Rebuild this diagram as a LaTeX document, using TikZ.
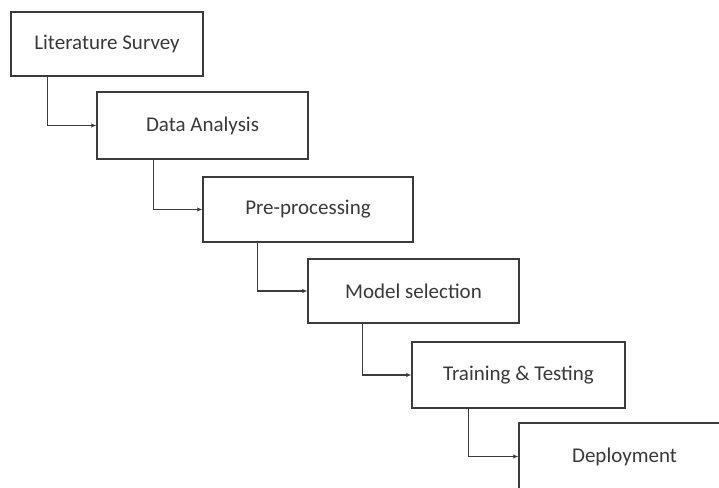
\documentclass[tikz,border=0pt]{standalone}
\usepackage{fontspec}
\setmainfont{Carlito}
\usetikzlibrary{arrows.meta}
\definecolor{ln}{HTML}{3C3C3C}
\definecolor{tx}{HTML}{3A3A3A}
\tikzset{
  stepbox/.style={draw=ln, line width=1.4pt, fill=white, minimum height=65pt, inner sep=0pt, font=\fontsize{21}{25}\selectfont, text=tx},
  conn/.style={draw=ln, line width=1.2pt, -{Latex[length=5pt,width=4.5pt]}}
}
\begin{document}
\begin{tikzpicture}[x=1pt,y=-1pt]
\useasboundingbox (0,0) rectangle (719,487);
\clip (0,0) rectangle (719,487);
\node[stepbox, minimum width=192pt, minimum height=64pt] (b1) at (107,44) {Literature Survey};
\node[stepbox, minimum width=211pt, minimum height=67pt] (b2) at (202.5,125.5) {Data Analysis};
\node[stepbox, minimum width=210pt] (b3) at (308,209.5) {Pre-processing};
\node[stepbox, minimum width=211pt, minimum height=64pt] (b4) at (413.5,291) {Model selection};
\node[stepbox, minimum width=213pt, minimum height=66pt] (b5) at (518.5,375) {Training \& Testing};
\node[stepbox, minimum width=211pt, minimum height=67pt] (b6) at (624.5,456.5) {Deployment};
\coordinate (c1) at ([xshift=37pt]b1.south west);
\coordinate (c2) at ([xshift=57pt]b2.south west);
\coordinate (c3) at ([xshift=55pt]b3.south west);
\coordinate (c4) at ([xshift=55pt]b4.south west);
\coordinate (c5) at ([xshift=57pt]b5.south west);
\draw[conn] (c1) |- (b2.west);
\draw[conn] (c2) |- (b3.west);
\draw[conn] (c3) |- (b4.west);
\draw[conn] (c4) |- (b5.west);
\draw[conn] (c5) |- (b6.west);
\end{tikzpicture}
\end{document}
